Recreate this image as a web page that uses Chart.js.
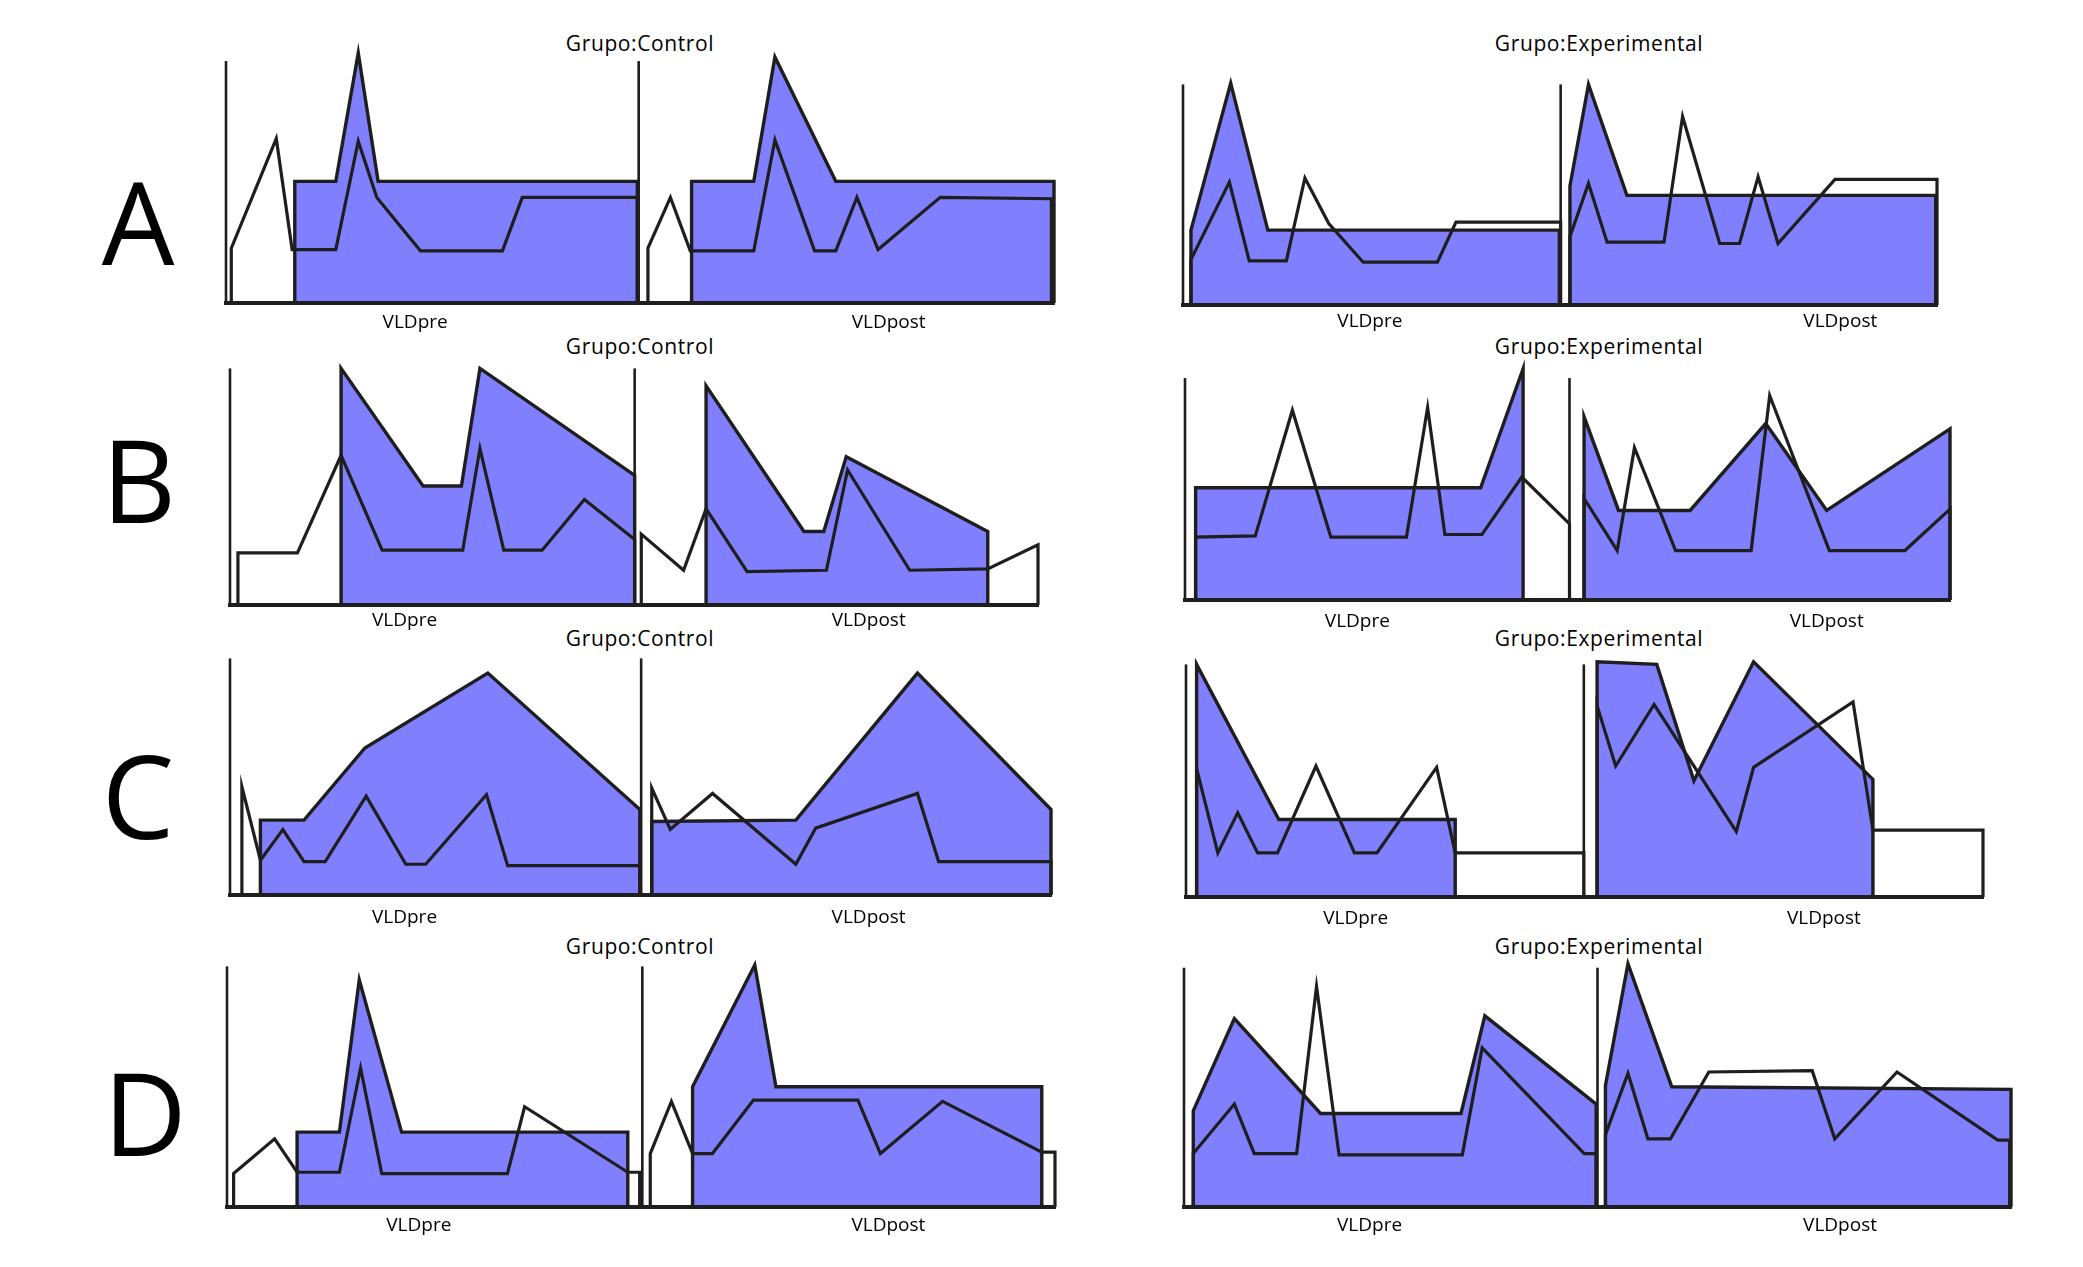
<!DOCTYPE html>
<html lang="es">
<head>
    <meta charset="UTF-8">
    <meta name="viewport" content="width=device-width, initial-scale=1.0">
    <script src="https://cdn.jsdelivr.net/npm/chart.js"></script>
    <title>VLDpre / VLDpost por grupo</title>
    <style>
        body { margin: 0; background: #fff; }
        #page { position: relative; width: 2083px; height: 1267px; overflow: hidden; background: #fff; }
        #page canvas { position: absolute; }
        .letra { position: absolute; width: 160px; text-align: center; font-family: 'Open Sans', sans-serif; font-size: 115px; line-height: 115px; color: #000; }
        .grupo { position: absolute; width: 320px; text-align: center; font-family: 'Open Sans', sans-serif; font-size: 21px; line-height: 21px; letter-spacing: 0.6px; color: #000; }
    </style>
</head>
<body>
    <div id="page">
        <div class="letra" style="left: 58px; top: 163px;">A</div>
        <div class="letra" style="left: 59px; top: 421px;">B</div>
        <div class="letra" style="left: 58px; top: 737px;">C</div>
        <div class="letra" style="left: 65px; top: 1054px;">D</div>

        <div class="grupo" style="left: 480px; top: 33px;">Grupo:Control</div>
        <div class="grupo" style="left: 1439px; top: 33px;">Grupo:Experimental</div>
        <div class="grupo" style="left: 480px; top: 336px;">Grupo:Control</div>
        <div class="grupo" style="left: 1439px; top: 336px;">Grupo:Experimental</div>
        <div class="grupo" style="left: 480px; top: 628px;">Grupo:Control</div>
        <div class="grupo" style="left: 1439px; top: 628px;">Grupo:Experimental</div>
        <div class="grupo" style="left: 480px; top: 936px;">Grupo:Control</div>
        <div class="grupo" style="left: 1439px; top: 936px;">Grupo:Experimental</div>
    </div>

    <script>
        // Etiquetas del eje x
        const etiquetas = ['VLDpre', 'VLDpost'];

        // Perfiles: [x, altura]. "Area" = zona azul, "Line" = contorno sin relleno
        // Fila A
        const aCtrlPreArea  = [[52,0],[52,91],[83,91],[100,187],[115,91],[311,91],[311,0]];
        const aCtrlPreLine  = [[4,0],[4,41],[38,123],[50,40],[83,40],[100,121],[114,79],[147,39],[209,39],[224,79],[311,79],[311,0]];
        const aCtrlPostArea = [[352,0],[352,91],[399,91],[415,184],[461,91],[626,91],[626,0]];
        const aCtrlPostLine = [[319,0],[319,41],[336,79],[351,39],[399,39],[415,122],[445,39],[461,39],[477,79],[493,40],[540,79],[624,78],[624,0]];
        const aExpPreArea   = [[6,0],[6,56],[36,166],[64,56],[284,56],[284,0]];
        const aExpPreLine   = [[6,0],[6,34],[35,92],[50,33],[78,33],[92,95],[110,61],[136,32],[192,32],[206,62],[285,62],[285,0]];
        const aExpPostArea  = [[292,0],[292,89],[306,165],[335,82],[568,82],[568,0]];
        const aExpPostLine  = [[292,0],[292,51],[306,91],[320,47],[363,47],[377,141],[405,46],[420,46],[434,96],[449,46],[492,94],[569,94],[569,0]];

        // Fila B
        const bCtrlPreArea  = [[84,0],[84,177],[146,89],[175,89],[189,177],[306,97],[306,0]];
        const bCtrlPreLine  = [[6,0],[6,39],[51,39],[84,112],[115,41],[176,41],[189,117],[207,41],[236,41],[268,79],[306,49],[306,0]];
        const bCtrlPostArea = [[360,0],[360,164],[434,55],[449,55],[466,111],[573,55],[573,0]];
        const bCtrlPostLine = [[311,0],[311,53],[343,26],[360,72],[391,25],[451,26],[467,101],[514,26],[573,27],[611,45],[611,0]];
        const bExpPreArea   = [[8,0],[8,84],[223,84],[255,173],[255,0]];
        const bExpPreLine   = [[8,0],[8,47],[53,48],[81,142],[110,47],[167,47],[183,144],[196,49],[224,49],[254,92],[290,57],[290,0]];
        const bExpPostArea  = [[301,0],[301,137],[327,67],[381,67],[438,132],[484,67],[577,128],[577,0]];
        const bExpPostLine  = [[301,0],[301,76],[326,37],[339,114],[370,37],[427,37],[441,153],[486,37],[543,37],[577,68],[577,0]];

        // Fila C
        const cCtrlPreArea  = [[23,0],[23,56],[56,56],[102,110],[195,166],[310,64],[310,0]];
        const cCtrlPreLine  = [[9,0],[9,81],[23,26],[40,49],[56,25],[72,25],[103,74],[133,23],[148,23],[194,75],[210,22],[310,22],[310,0]];
        const cCtrlPostArea = [[319,0],[319,55],[428,56],[520,166],[621,64],[621,0]];
        const cCtrlPostLine = [[319,0],[319,80],[333,49],[365,76],[428,23],[443,50],[520,76],[536,25],[621,25],[621,0]];
        const cExpPreArea   = [[8,0],[8,174],[70,58],[203,58],[203,0]];
        const cExpPreLine   = [[8,0],[8,96],[24,33],[39,63],[54,33],[69,33],[98,98],[127,33],[144,33],[189,97],[203,33],[300,33],[300,0]];
        const cExpPostArea  = [[310,0],[310,176],[355,174],[383,87],[428,176],[518,88],[518,0]];
        const cExpPostLine  = [[310,0],[310,143],[324,98],[353,144],[415,49],[428,97],[503,146],[518,50],[601,50],[601,0]];

        // Fila D
        const dCtrlPreArea  = [[53,0],[53,56],[85,56],[100,170],[132,56],[303,56],[303,0]];
        const dCtrlPreLine  = [[5,0],[5,25],[36,51],[53,26],[85,26],[101,104],[117,25],[212,25],[225,75],[303,26],[312,26],[312,0]];
        const dCtrlPostArea = [[352,0],[352,90],[399,181],[415,90],[616,90],[616,0]];
        const dCtrlPostLine = [[320,0],[320,40],[336,79],[352,40],[367,40],[398,80],[477,80],[494,40],[541,79],[616,41],[626,41],[626,0]];
        const dExpPreArea   = [[7,0],[7,72],[38,141],[103,70],[209,70],[227,143],[311,77],[311,0]];
        const dExpPreLine   = [[7,0],[7,40],[38,77],[53,40],[85,40],[100,165],[117,39],[210,39],[225,119],[302,40],[311,40],[311,0]];
        const dExpPostArea  = [[318,0],[318,91],[335,182],[368,90],[624,88],[624,0]];
        const dExpPostLine  = [[318,0],[318,54],[335,100],[350,51],[367,51],[396,101],[474,102],[491,51],[538,101],[614,50],[623,50],[623,0]];

        // Altura de los ejes verticales y posición del eje de VLDpost
        const ejeAlto = [181, 165, 177, 166, 177, 174, 180, 179];
        const ejePost = [312, 285, 306, 290, 311, 300, 314, 312];
        // Posición de las etiquetas VLDpre / VLDpost
        const etiqPre  = [143, 141, 132, 130, 132, 128, 145, 140];
        const etiqPost = [501, 496, 483, 484, 483, 481, 500, 495];

        // Colocación de cada panel en la página: eje izquierdo, línea base, ancho,
        // escala horizontal, fila de las etiquetas (todo en px de la figura a 1560 de ancho)
        const paneles = [
            { left: 169.5, base: 226.7, xmax: 626, sx: 0.990, etiqY: 241, areas: [aCtrlPreArea, aCtrlPostArea], lines: [aCtrlPreLine, aCtrlPostLine] },
            { left: 885.6, base: 228.5, xmax: 569, sx: 0.993, etiqY: 241, areas: [aExpPreArea, aExpPostArea],   lines: [aExpPreLine, aExpPostLine] },
            { left: 172.5, base: 453.2, xmax: 611, sx: 0.990, etiqY: 465, areas: [bCtrlPreArea, bCtrlPostArea], lines: [bCtrlPreLine, bCtrlPostLine] },
            { left: 887.4, base: 448.9, xmax: 577, sx: 0.993, etiqY: 465, areas: [bExpPreArea, bExpPostArea],   lines: [bExpPreLine, bExpPostLine] },
            { left: 172.5, base: 670.4, xmax: 621, sx: 0.990, etiqY: 687, areas: [cCtrlPreArea, cCtrlPostArea], lines: [cCtrlPreLine, cCtrlPostLine] },
            { left: 888.5, base: 671.2, xmax: 601, sx: 0.993, etiqY: 687, areas: [cExpPreArea, cExpPostArea],   lines: [cExpPreLine, cExpPostLine] },
            { left: 169.7, base: 903.9, xmax: 626, sx: 0.990, etiqY: 918, areas: [dCtrlPreArea, dCtrlPostArea], lines: [dCtrlPreLine, dCtrlPostLine] },
            { left: 887.0, base: 903.9, xmax: 624, sx: 0.993, etiqY: 918, areas: [dExpPreArea, dExpPostArea],   lines: [dExpPreLine, dExpPostLine] }
        ];

        const S = 2083 / 1560;      // px por unidad
        const Y_MAX = 196;
        const PAD_L = 8, PAD_R = 8, PAD_T = 6;
        const ALTO_ETIQ = 46;
        const TAM_ETIQ = 19;
        const NEGRO = '#1e1e1e';
        const AZUL = '#8080ff';

        function puntos(arr) {
            return arr.map(p => ({ x: p[0], y: p[1] }));
        }

        const base = { pointRadius: 0, pointHoverRadius: 0, tension: 0, clip: false, borderJoinStyle: 'miter', borderCapStyle: 'butt' };

        const page = document.getElementById('page');

        paneles.forEach((p, i) => {
            const canvas = document.createElement('canvas');
            const w = Math.round(p.xmax * S * p.sx + PAD_L + PAD_R);
            const h = Math.round(Y_MAX * S + PAD_T + ALTO_ETIQ);
            canvas.width = w;
            canvas.height = h;
            canvas.style.width = w + 'px';
            canvas.style.height = h + 'px';
            canvas.style.left = (p.left * S - PAD_L) + 'px';
            canvas.style.top = ((p.base - Y_MAX) * S - PAD_T) + 'px';
            page.appendChild(canvas);

            // separación entre la base y el centro de las etiquetas
            const padEtiq = Math.max(2, (p.etiqY - p.base) * S - TAM_ETIQ * 0.6);

            const datasets = [];
            // ejes verticales de VLDpre y VLDpost
            [0, ejePost[i]].forEach(x => {
                datasets.push(Object.assign({}, base, {
                    data: puntos([[x, 0], [x, ejeAlto[i]]]),
                    borderColor: NEGRO, borderWidth: 2.6, fill: false, order: 0
                }));
            });
            // contornos
            p.lines.forEach(l => {
                datasets.push(Object.assign({}, base, {
                    data: puntos(l), borderColor: NEGRO, borderWidth: 3.2, fill: false, order: 1
                }));
            });
            // zonas azules
            p.areas.forEach(a => {
                datasets.push(Object.assign({}, base, {
                    data: puntos(a), borderColor: NEGRO, borderWidth: 3.4,
                    backgroundColor: AZUL, fill: 'origin', order: 2
                }));
            });

            new Chart(canvas.getContext('2d'), {
                type: 'line',
                data: { datasets: datasets },
                options: {
                    responsive: false,
                    animation: false,
                    devicePixelRatio: 1,
                    events: [],
                    layout: { padding: { left: PAD_L, right: PAD_R, top: PAD_T, bottom: 0 } },
                    plugins: { legend: { display: false }, tooltip: { enabled: false } },
                    scales: {
                        x: {
                            type: 'linear', min: 0, max: p.xmax,
                            grid: { display: false, drawTicks: false },
                            border: { display: true, color: NEGRO, width: 4, z: 1 },
                            ticks: {
                                autoSkip: false, maxRotation: 0, padding: padEtiq, color: '#000',
                                font: { family: "'Open Sans', sans-serif", size: TAM_ETIQ },
                                callback: (v, idx) => etiquetas[idx]
                            },
                            afterBuildTicks: s => { s.ticks = [{ value: etiqPre[i] }, { value: etiqPost[i] }]; },
                            afterFit: s => { s.height = ALTO_ETIQ; }
                        },
                        y: { display: false, min: 0, max: Y_MAX }
                    }
                }
            });
        });
    </script>
</body>
</html>
